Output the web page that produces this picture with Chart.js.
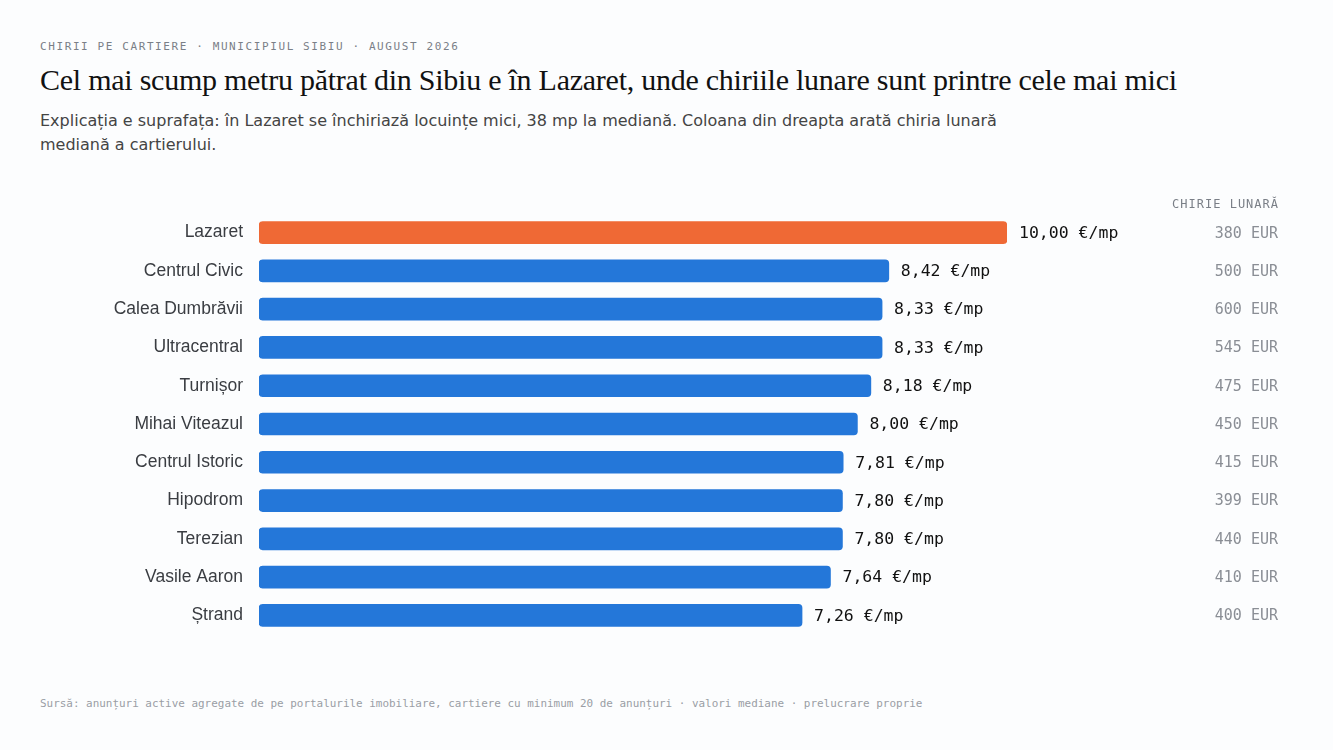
<!DOCTYPE html>
<html><head><meta charset="utf-8">
<script src="https://cdn.jsdelivr.net/npm/chart.js@4.4.1/dist/chart.umd.min.js"></script>
<style>
html,body{margin:0;padding:0;background:#fcfdfe;width:1333px;height:750px;overflow:hidden;position:relative}
.kicker{position:absolute;left:40px;top:40px;font:11px "DejaVu Sans Mono",monospace;letter-spacing:1.6px;color:#7a7f87;white-space:nowrap}
.title{position:absolute;left:40px;top:63px;font:30px "Liberation Serif","Times New Roman",serif;color:#111;white-space:nowrap;letter-spacing:-0.25px}
.sub{position:absolute;left:40px;top:109px;width:1000px;font:16px/24px "DejaVu Sans",sans-serif;color:#444}
.foot{position:absolute;left:40px;top:697px;font:10.95px "DejaVu Sans Mono",monospace;color:#9a9ea5;white-space:nowrap}
#c{position:absolute;left:0;top:187px;width:1333px;height:474px}
</style></head><body>
<div class="kicker">CHIRII PE CARTIERE · MUNICIPIUL SIBIU · AUGUST 2026</div>
<div class="title">Cel mai scump metru pătrat din Sibiu e în Lazaret, unde chiriile lunare sunt printre cele mai mici</div>
<div class="sub">Explicația e suprafața: în Lazaret se închiriază locuințe mici, 38 mp la mediană. Coloana din dreapta arată chiria lunară mediană a cartierului.</div>
<canvas id="c" width="1333" height="474"></canvas>
<div class="foot">Sursă: anunțuri active agregate de pe portalurile imobiliare, cartiere cu minimum 20 de anunțuri · valori mediane · prelucrare proprie</div>
<script>
const categories = ["Lazaret","Centrul Civic","Calea Dumbrăvii","Ultracentral","Turnișor","Mihai Viteazul","Centrul Istoric","Hipodrom","Terezian","Vasile Aaron","Ștrand"];
const pricePerSqm = [10.00, 8.42, 8.33, 8.33, 8.18, 8.00, 7.81, 7.80, 7.80, 7.64, 7.26];
const monthlyRent = [380, 500, 600, 545, 475, 450, 415, 399, 440, 410, 400];
const highlight = "Lazaret";
const ORANGE = "#ef6935", BLUE = "#2477d9";

const labelsPlugin = {
  id: 'labelsPlugin',
  afterDatasetsDraw(chart) {
    const ctx = chart.ctx;
    const meta = chart.getDatasetMeta(0);
    const area = chart.chartArea;
    ctx.save();
    ctx.textBaseline = 'middle';
    meta.data.forEach((bar, i) => {
      ctx.font = '16.5px "DejaVu Sans Mono", monospace';
      ctx.fillStyle = '#111';
      ctx.textAlign = 'left';
      ctx.fillText(pricePerSqm[i].toFixed(2).replace('.', ',') + ' €/mp', bar.x + 12, bar.y + 1);
      ctx.font = '15px "DejaVu Sans Mono", monospace';
      ctx.fillStyle = '#8a8e95';
      ctx.textAlign = 'right';
      ctx.fillText(monthlyRent[i] + ' EUR', 1278, bar.y + 1);
    });
    ctx.font = '12px "DejaVu Sans Mono", monospace';
    if ('letterSpacing' in ctx) ctx.letterSpacing = '1px';
    ctx.fillStyle = '#7a7f87';
    ctx.textAlign = 'right';
    ctx.fillText('CHIRIE LUNARĂ', 1279, area.top - 9);
    ctx.restore();
  }
};

new Chart(document.getElementById('c'), {
  type: 'bar',
  data: {
    labels: categories,
    datasets: [{
      data: pricePerSqm,
      backgroundColor: categories.map(c => c === highlight ? ORANGE : BLUE),
      borderRadius: 4,
      borderSkipped: false,
      barThickness: 22
    }]
  },
  options: {
    indexAxis: 'y',
    responsive: false,
    maintainAspectRatio: false,
    animation: false,
    layout: { padding: { top: 0, bottom: 0, left: 0, right: 326 } },
    plugins: { legend: { display: false }, tooltip: { enabled: false } },
    scales: {
      x: { min: 0, max: 10, display: false, grid: { display: false } },
      y: {
        grid: { display: false, drawTicks: false },
        border: { display: false },
        ticks: { padding: 16, color: '#3a3d42', font: { family: '"Liberation Sans", Arial, sans-serif', size: 17.5 } },
        afterFit(scale) { scale.width = 259; }
      }
    }
  },
  plugins: [labelsPlugin]
});
</script>
</body></html>
